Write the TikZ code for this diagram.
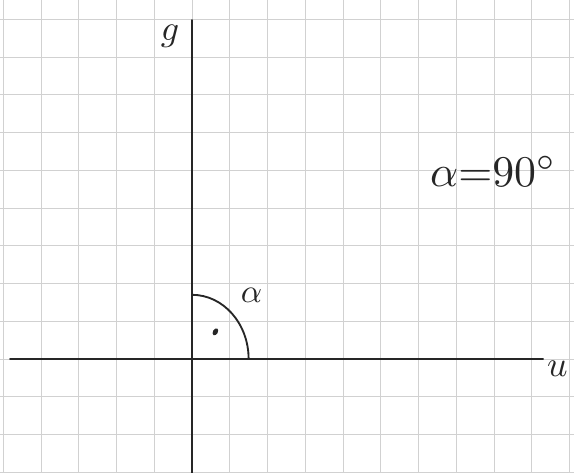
\documentclass[tikz,border=0pt]{standalone}
\begin{document}
\begin{tikzpicture}[x=1cm,y=1cm,
  gridline/.style={draw=black!18, line width=0.7pt},
  axis/.style={draw=black!85, line width=1.4pt, line cap=round},
  lbl/.style={inner sep=0pt, text=black!85},
  anglearc/.style={draw=black!85, line width=1.4pt}]
\useasboundingbox (-5.086,-3.02) rectangle (10.12,9.51);
\fill[white] (-5.086,-3.02) rectangle (10.12,9.51);
\draw[gridline] (-5.086,-3.02) grid[step=1] (10.12,9.51);
% axes
\coordinate (O) at (0,0);
\coordinate (xl) at (-4.82,0);
\coordinate (xr) at (9.3,0);
\coordinate (yb) at (0,-3.02);
\coordinate (yt) at (0,8.98);
\draw[axis] (xl) -- (xr);
\draw[axis] (yb) -- (yt);
% labels
\node[lbl, scale=2.7] (g) at (-0.58,8.55) {$g$};
\node[lbl, scale=2.7] (u) at (9.68,-0.25) {$u$};
\node[lbl, scale=3.3] (eq) at (7.98,4.98) {$\alpha{=}90^{\circ}$};
% angle
\draw[anglearc] (0,1.7) arc[start angle=90, end angle=0, x radius=1.5, y radius=1.7];
\node[lbl, scale=2.5] (al) at (1.58,1.68) {$\alpha$};
\fill[black!85, rotate around={60:(0.62,0.72)}] (0.62,0.72) ellipse[x radius=0.1, y radius=0.065];
\end{tikzpicture}
\end{document}
